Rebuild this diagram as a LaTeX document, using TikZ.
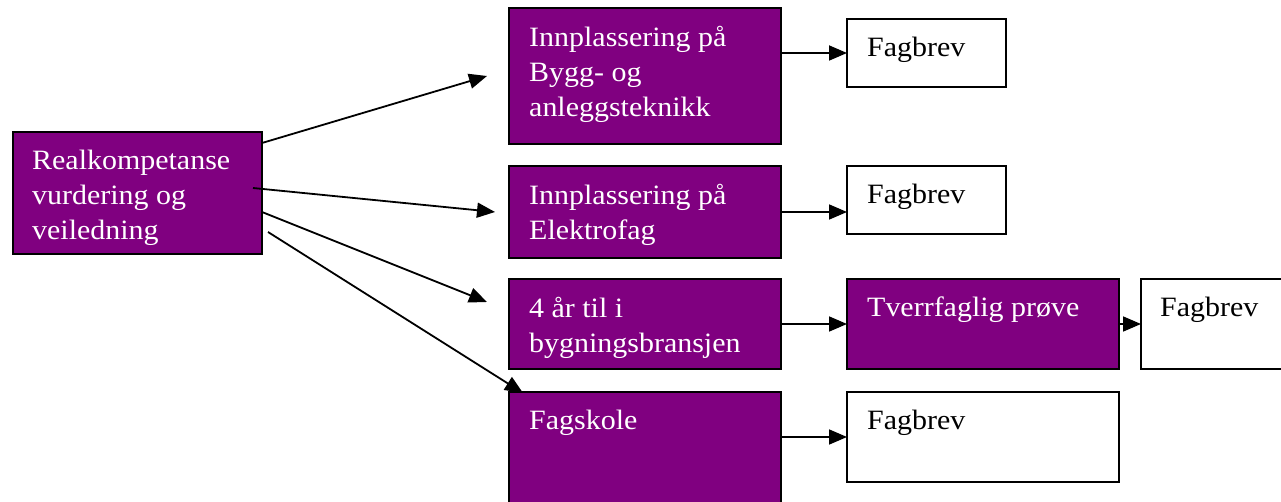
\documentclass[tikz,border=0pt]{standalone}
\usepackage{fontspec}
\setmainfont[FakeStretch=1.07]{Liberation Serif}
\usetikzlibrary{arrows.meta}
\definecolor{wordpurple}{HTML}{800080}
\begin{document}
\begin{tikzpicture}[x=1pt,y=-1pt,
  boxbase/.style={draw=black,line width=1.8pt,anchor=north west,inner sep=0pt,outer sep=0pt},
  pbox/.style={boxbase,fill=wordpurple},
  wbox/.style={boxbase,fill=white},
  btext/.style={anchor=north west,inner sep=0pt,align=left,font=\fontsize{28}{35}\selectfont},
  ptext/.style={btext,text=white},
  wtext/.style={btext,text=black},
  conn/.style={line width=1.8pt,-{Triangle[length=18pt,width=15pt]}}
]
\useasboundingbox (0,0) rectangle (1281,502);
\fill[white] (0,0) rectangle (1281,502);

% boxes
\node[pbox,minimum width=249pt,minimum height=122pt] (rk) at (13,132) {};
\node[pbox,minimum width=272pt,minimum height=136pt] (b1) at (509,8) {};
\node[pbox,minimum width=272pt,minimum height=92pt] (b2) at (509,166) {};
\node[pbox,minimum width=272pt,minimum height=90pt] (b3) at (509,279) {};
\node[pbox,minimum width=272pt,minimum height=140pt] (b4) at (509,392) {};
\node[wbox,minimum width=159pt,minimum height=68pt] (f1) at (847,19) {};
\node[wbox,minimum width=159pt,minimum height=68pt] (f2) at (847,166) {};
\node[pbox,minimum width=272pt,minimum height=90pt] (tv) at (847,279) {};
\node[wbox,minimum width=172pt,minimum height=90pt] (f3) at (1141,279) {};
\node[wbox,minimum width=272pt,minimum height=90pt] (f4) at (847,392) {};

% texts
\node[ptext] (rkt) at ([xshift=19pt,yshift=-18pt]rk.north west) {Realkompetanse\\vurdering og\\veiledning};
\node[ptext] (b1t) at ([xshift=20pt,yshift=-18pt]b1.north west) {Innplassering på\\Bygg- og\\anleggsteknikk};
\node[ptext] (b2t) at ([xshift=20pt,yshift=-18pt]b2.north west) {Innplassering på\\Elektrofag};
\node[ptext] (b3t) at ([xshift=20pt,yshift=-18pt]b3.north west) {4 år til i\\bygningsbransjen};
\node[ptext] (b4t) at ([xshift=20pt,yshift=-18pt]b4.north west) {Fagskole};
\node[wtext] (f1t) at ([xshift=20pt,yshift=-18pt]f1.north west) {Fagbrev};
\node[wtext] (f2t) at ([xshift=20pt,yshift=-18pt]f2.north west) {Fagbrev};
\node[ptext] (tvt) at ([xshift=20pt,yshift=-18pt]tv.north west) {Tverrfaglig prøve};
\node[wtext] (f3t) at ([xshift=19pt,yshift=-18pt]f3.north west) {Fagbrev};
\node[wtext] (f4t) at ([xshift=20pt,yshift=-18pt]f4.north west) {Fagbrev};

% free ends of the left connectors
\coordinate (s1) at ([yshift=-11pt]rk.north east);
\coordinate (s2) at ([xshift=-9pt,yshift=-56pt]rk.north east);
\coordinate (s3) at ([yshift=-80pt]rk.north east);
\coordinate (s4) at ([xshift=6pt,yshift=-100pt]rk.north east);
\coordinate (e1) at ([xshift=-22pt,yshift=-68pt]b1.north west);
\coordinate (e2) at ([xshift=-14pt,yshift=-46pt]b2.north west);
\coordinate (e3) at ([xshift=-22pt,yshift=-23pt]b3.north west);
\coordinate (e4) at ([xshift=14pt,yshift=-1pt]b4.north west);

\draw[conn] (s1) -- (e1);
\draw[conn] (s2) -- (e2);
\draw[conn] (s3) -- (e3);
\draw[conn] (s4) -- (e4);

% right connectors
\draw[conn] (b1.east |- f1.west) -- (f1.west);
\draw[conn] (b2.east) -- (f2.west |- b2.east);
\draw[conn] (b3.east) -- (tv.west);
\draw[conn] (tv.east) -- (f3.west);
\draw[conn] (b4.east |- f4.west) -- (f4.west);
\end{tikzpicture}
\end{document}
